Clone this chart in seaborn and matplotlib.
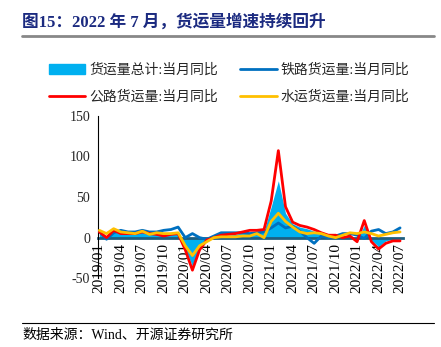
import numpy as np
import pandas as pd
import matplotlib
matplotlib.use("Agg")
import matplotlib.pyplot as plt
import matplotlib.patches as mpatches
import matplotlib.lines as mlines
import seaborn as sns

# ---------------- data ----------------
months = [f"{y}/{m:02d}" for y in (2019, 2020, 2021, 2022) for m in range(1, 13)][:43]
tick_labels = ["2019/01", "2019/04", "2019/07", "2019/10", "2020/01", "2020/04",
               "2020/07", "2020/10", "2021/01", "2021/04", "2021/07", "2021/10",
               "2022/01", "2022/04", "2022/07"]

total = [7, 2, 8, 6, 6, 6, 7, 5, 5, 4, 5, 6, -14, -35, -12, -3, 0, 3, 3, 4, 6, 7, 8, 8,
         38, 70, 30, 17, 13, 11, 8, 5, 2, 3, 1, 3, -3, 15, -3, -11, -4, -2, -1]
rail = [8, -2, 6, 9, 7, 7, 9, 7, 7, 9, 10, 13, 0, 5, 0, -2, 2, 6, 6, 6, 6, 5, 6, 7,
        12, 18, 12, 14, 8, 0, -7, 2, 0, 2, 5, 5, 3, -1, 8, 10, 5, 7, 12]
road = [7, 0, 9, 5, 5, 5, 7, 5, 4, 2, 4, 5, -15, -40, -15, -3, 0, 3, 4, 5, 7, 9, 9, 10,
        45, 107, 38, 19, 15, 13, 10, 6, 3, 3, 0, 2, -5, 21, -5, -14, -7, -4, -4]
water = [9, 5, 11, 7, 6, 5, 8, 4, 6, 5, 5, 6, -10, -22, -10, -5, 0, 1, 1, 1, 2, 2, 5, 0,
         20, 30, 20, 13, 7, 5, 6, 5, 2, 0, 3, 6, 5, 7, 5, 2, 4, 6, 7]

lbl_total = "货运量总计:当月同比"
lbl_rail = "铁路货运量:当月同比"
lbl_road = "公路货运量:当月同比"
lbl_water = "水运货运量:当月同比"

c_total = "#00B0F0"
c_rail = "#0070C0"
c_road = "#FF0000"
c_water = "#FFC000"

# ---------------- style ----------------
sns.set_style("white")
FAM = ["Liberation Serif", "Noto Sans CJK SC"]
plt.rcParams["font.family"] = FAM
plt.rcParams["axes.unicode_minus"] = False

df = pd.DataFrame({"idx": np.arange(len(months)), "month": months,
                   "total": total, "rail": rail, "road": road, "water": water})

fig = plt.figure(figsize=(4.41, 3.47), dpi=100)
ax = fig.add_axes([0.223, 0.198, 0.691, 0.4686])

ax.fill_between(df["idx"], 0, df["total"], color=c_total, lw=0, zorder=1)
sns.lineplot(data=df, x="idx", y="rail", color=c_rail, lw=2.0, ax=ax, zorder=3)
sns.lineplot(data=df, x="idx", y="road", color=c_road, lw=2.0, ax=ax, zorder=4)
sns.lineplot(data=df, x="idx", y="water", color=c_water, lw=2.0, ax=ax, zorder=5)

ax.set_xlim(-0.14, 42.42)
ax.set_ylim(-50, 150)
ax.set_yticks([-50, 0, 50, 100, 150])
ax.set_xticks([months.index(t) for t in tick_labels])
ax.set_xticklabels(tick_labels)
ax.set_xlabel("")
ax.set_ylabel("")

for s in ("top", "right"):
    ax.spines[s].set_visible(False)
ax.spines["left"].set_color("black")
ax.spines["left"].set_linewidth(0.8)
ax.spines["bottom"].set_position(("data", 0))
ax.spines["bottom"].set_color("#1F5F80")
ax.spines["bottom"].set_linewidth(2.0)
ax.spines["bottom"].set_zorder(2)
ax.tick_params(axis="y", direction="in", length=3, width=0.8, labelsize=10, pad=6)
ax.tick_params(axis="x", direction="in", length=3, width=0.8, labelsize=11, pad=4,
               labelrotation=90, colors="black")
for t in ax.get_xticklabels():
    t.set_verticalalignment("top")
    t.set_horizontalalignment("center")

# legend
h_total = mpatches.Patch(color=c_total, label=lbl_total)
h_rail = mlines.Line2D([], [], color=c_rail, lw=2.0, label=lbl_rail)
h_road = mlines.Line2D([], [], color=c_road, lw=2.0, label=lbl_road)
h_water = mlines.Line2D([], [], color=c_water, lw=2.0, label=lbl_water)
fig.legend(handles=[h_total, h_road, h_rail, h_water], ncol=2, frameon=False,
           loc="center", bbox_to_anchor=(0.52, 0.759), prop={"family": FAM, "size": 10},
           handlelength=2.6, handletextpad=0.3, columnspacing=1.6, labelspacing=1.0)

# title and decorations
fig.text(0.05, 0.935, "图15：2022 年 7 月，货运量增速持续回升", fontsize=12, fontweight="bold",
         color="#1B2A80", family=FAM, va="center", ha="left")
fig.add_artist(mlines.Line2D([0.05, 0.984], [0.896, 0.896], color="#888888", lw=2.0))
fig.add_artist(mlines.Line2D([0.05, 0.984], [0.069, 0.069], color="black", lw=0.8))
fig.text(0.05, 0.034, "数据来源：Wind、开源证券研究所", fontsize=10, color="black",
         family=FAM, va="center", ha="left")

fig.savefig("out.png", dpi=100)
